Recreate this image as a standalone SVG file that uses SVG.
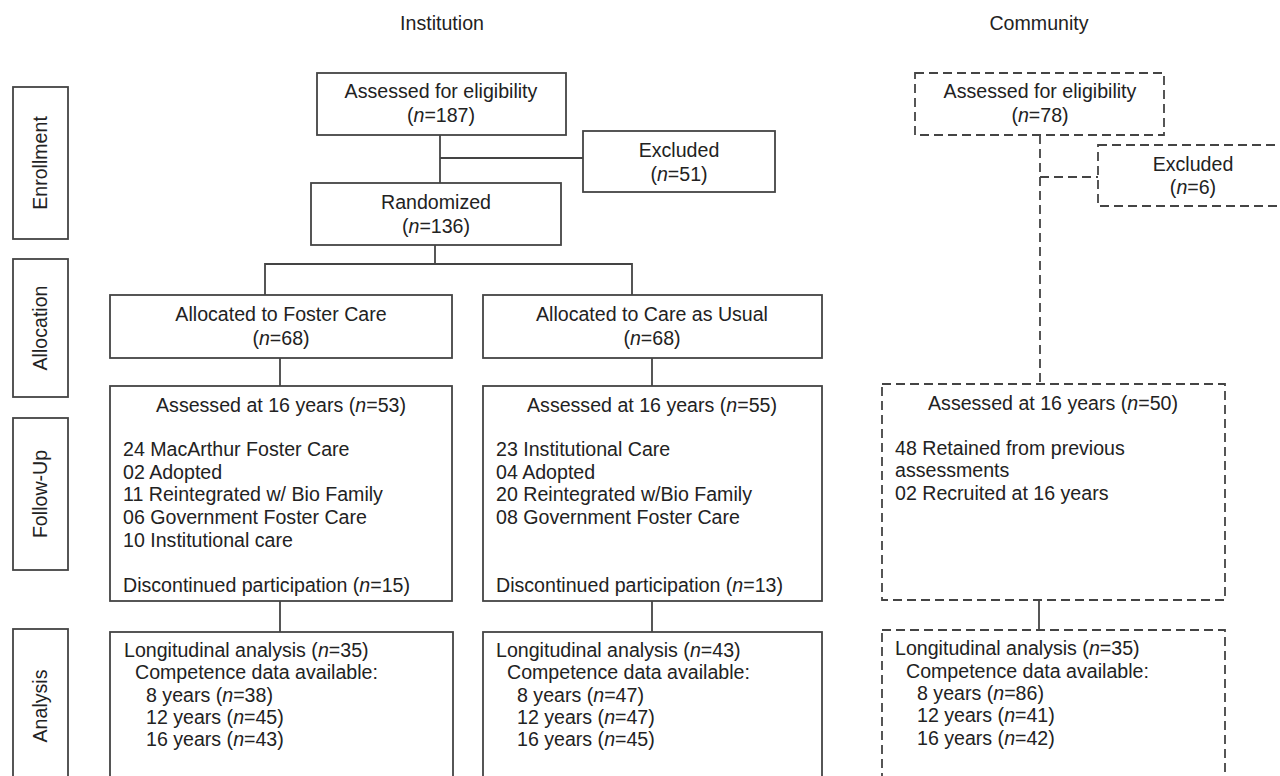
<svg xmlns="http://www.w3.org/2000/svg" width="1280" height="776" viewBox="0 0 1280 776">
<style>
text { font-family: "Liberation Sans", Arial, sans-serif; font-size: 19.6px; fill: #222; }
.c { text-anchor: middle; }
.i { font-style: italic; }
.box { fill: #fff; stroke: #444; stroke-width: 1.8; }
.dbox { fill: #fff; stroke: #444; stroke-width: 1.8; stroke-dasharray: 9 5; }
.ln { stroke: #444; stroke-width: 1.8; fill: none; }
.dln { stroke: #444; stroke-width: 1.8; fill: none; stroke-dasharray: 9 5; }
</style>
<rect width="1280" height="776" fill="#fff"/>

<g id="headers">
<text class="c" x="442" y="30">Institution</text>
<text class="c" x="1039" y="30">Community</text>
</g>

<g id="side-labels">
<g id="lbl-enrollment"><rect class="box" x="13" y="87" width="55" height="152"/><text class="c" transform="translate(47,163) rotate(-90)">Enrollment</text></g>
<g id="lbl-allocation"><rect class="box" x="13" y="259" width="55" height="138"/><text class="c" transform="translate(47,328) rotate(-90)">Allocation</text></g>
<g id="lbl-followup"><rect class="box" x="13" y="418" width="55" height="152"/><text class="c" transform="translate(47,494) rotate(-90)">Follow-Up</text></g>
<g id="lbl-analysis"><rect class="box" x="13" y="629" width="55" height="160"/><text class="c" transform="translate(47,706) rotate(-90)">Analysis</text></g>
</g>

<g id="connectors">
<line class="ln" x1="440" y1="135" x2="440" y2="183"/>
<line class="ln" x1="440" y1="158" x2="583" y2="158"/>
<line class="ln" x1="435" y1="245" x2="435" y2="264"/>
<polyline class="ln" points="265,295 265,264 632,264 632,295"/>
<line class="ln" x1="280" y1="358" x2="280" y2="386"/>
<line class="ln" x1="652" y1="358" x2="652" y2="386"/>
<line class="ln" x1="280" y1="601" x2="280" y2="632"/>
<line class="ln" x1="652" y1="601" x2="652" y2="632"/>
<line class="dln" x1="1040" y1="135" x2="1040" y2="384"/>
<line class="dln" x1="1040" y1="177" x2="1098" y2="177"/>
<line class="ln" x1="1039" y1="600" x2="1039" y2="630"/>
</g>

<g id="inst-assessed">
<rect class="box" x="317" y="73" width="249" height="62"/>
<text class="c" x="441" y="98">Assessed for eligibility</text>
<text class="c" x="441" y="122">(<tspan class="i">n</tspan>=187)</text>
</g>

<g id="inst-excluded">
<rect class="box" x="583" y="131" width="192" height="61"/>
<text class="c" x="679" y="157">Excluded</text>
<text class="c" x="679" y="181">(<tspan class="i">n</tspan>=51)</text>
</g>

<g id="inst-randomized">
<rect class="box" x="311" y="183" width="250" height="62"/>
<text class="c" x="436" y="209">Randomized</text>
<text class="c" x="436" y="233">(<tspan class="i">n</tspan>=136)</text>
</g>

<g id="alloc-foster">
<rect class="box" x="110" y="295" width="342" height="63"/>
<text class="c" x="281" y="321">Allocated to Foster Care</text>
<text class="c" x="281" y="345">(<tspan class="i">n</tspan>=68)</text>
</g>

<g id="alloc-usual">
<rect class="box" x="483" y="295" width="339" height="63"/>
<text class="c" x="652" y="321">Allocated to Care as Usual</text>
<text class="c" x="652" y="345">(<tspan class="i">n</tspan>=68)</text>
</g>

<g id="follow-foster">
<rect class="box" x="110" y="386" width="342" height="215"/>
<text class="c" x="281" y="412">Assessed at 16 years (<tspan class="i">n</tspan>=53)</text>
<text x="123" y="456">24 MacArthur Foster Care</text>
<text x="123" y="479">02 Adopted</text>
<text x="123" y="501">11 Reintegrated w/ Bio Family</text>
<text x="123" y="524">06 Government Foster Care</text>
<text x="123" y="547">10 Institutional care</text>
<text x="123" y="592">Discontinued participation (<tspan class="i">n</tspan>=15)</text>
</g>

<g id="follow-usual">
<rect class="box" x="483" y="386" width="339" height="215"/>
<text class="c" x="652" y="412">Assessed at 16 years (<tspan class="i">n</tspan>=55)</text>
<text x="496" y="456">23 Institutional Care</text>
<text x="496" y="479">04 Adopted</text>
<text x="496" y="501">20 Reintegrated w/Bio Family</text>
<text x="496" y="524">08 Government Foster Care</text>
<text x="496" y="592">Discontinued participation (<tspan class="i">n</tspan>=13)</text>
</g>

<g id="analysis-foster">
<rect class="box" x="110" y="632" width="343" height="160"/>
<text x="124" y="657">Longitudinal analysis (<tspan class="i">n</tspan>=35)</text>
<text x="135" y="679">Competence data available:</text>
<text x="146" y="702">8 years (<tspan class="i">n</tspan>=38)</text>
<text x="146" y="724">12 years (<tspan class="i">n</tspan>=45)</text>
<text x="146" y="746">16 years (<tspan class="i">n</tspan>=43)</text>
</g>

<g id="analysis-usual">
<rect class="box" x="483" y="632" width="339" height="160"/>
<text x="496" y="657">Longitudinal analysis (<tspan class="i">n</tspan>=43)</text>
<text x="507" y="679">Competence data available:</text>
<text x="517" y="702">8 years (<tspan class="i">n</tspan>=47)</text>
<text x="517" y="724">12 years (<tspan class="i">n</tspan>=47)</text>
<text x="517" y="746">16 years (<tspan class="i">n</tspan>=45)</text>
</g>

<g id="comm-assessed">
<rect class="dbox" x="915" y="73" width="249" height="62"/>
<text class="c" x="1040" y="98">Assessed for eligibility</text>
<text class="c" x="1040" y="122">(<tspan class="i">n</tspan>=78)</text>
</g>

<g id="comm-excluded">
<rect class="dbox" x="1098" y="145" width="192" height="61"/>
<text class="c" x="1193" y="171">Excluded</text>
<text class="c" x="1193" y="194">(<tspan class="i">n</tspan>=6)</text>
</g>

<g id="comm-follow">
<rect class="dbox" x="882" y="384" width="343" height="216"/>
<text class="c" x="1053" y="410">Assessed at 16 years (<tspan class="i">n</tspan>=50)</text>
<text x="895" y="455">48 Retained from previous</text>
<text x="895" y="477">assessments</text>
<text x="895" y="500">02 Recruited at 16 years</text>
</g>

<g id="comm-analysis">
<rect class="dbox" x="882" y="630" width="343" height="160"/>
<text x="895" y="655">Longitudinal analysis (<tspan class="i">n</tspan>=35)</text>
<text x="906" y="678">Competence data available:</text>
<text x="917" y="700">8 years (<tspan class="i">n</tspan>=86)</text>
<text x="917" y="722">12 years (<tspan class="i">n</tspan>=41)</text>
<text x="917" y="745">16 years (<tspan class="i">n</tspan>=42)</text>
</g>
</svg>
